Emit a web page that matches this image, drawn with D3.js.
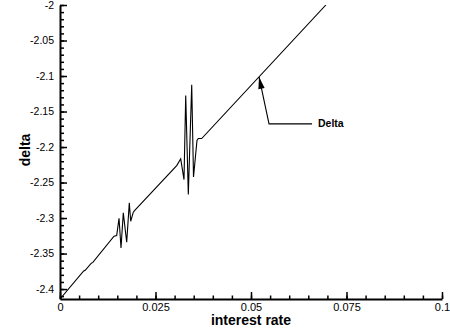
<!DOCTYPE html>
<html>
<head>
<meta charset="utf-8">
<script src="https://cdn.jsdelivr.net/npm/d3@7"></script>
<style>
  html, body { margin: 0; padding: 0; background: #fff; }
  svg { display: block; font-family: "Liberation Sans", Arial, Helvetica, sans-serif; }
</style>
</head>
<body>
<svg id="chart" width="450" height="332"></svg>
<script>
// Interest rate (x) and delta (y) samples of the computed curve
const rates = [0, 0.0062, 0.0066, 0.0082, 0.0086, 0.01414, 0.01484, 0.01545, 0.01597,
  0.01657, 0.01746, 0.01814, 0.01851, 0.01919, 0.01963, 0.03055, 0.03160, 0.03246,
  0.03291, 0.03359, 0.03448, 0.03495, 0.03586, 0.03620, 0.03709, 0.0696];
const deltas = [-2.414, -2.3745, -2.3735, -2.3635, -2.3625, -2.3256, -2.3246, -2.3003, -2.3420,
  -2.2927, -2.3341, -2.2786, -2.3045, -2.2918, -2.2890, -2.2261, -2.2166, -2.2458,
  -2.1275, -2.2669, -2.1124, -2.2423, -2.1908, -2.1880, -2.1880, -2.0];

// Axis ticks
const xMajor = [0, 0.025, 0.05, 0.075, 0.1];
const xMajorLabels = ["0", "0.025", "0.05", "0.075", "0.1"];
const xMinor = d3.range(0, 0.1001, 0.005);
const yMajor = [-2.4, -2.35, -2.3, -2.25, -2.2, -2.15, -2.1, -2.05, -2];
const yMajorLabels = ["-2.4", "-2.35", "-2.3", "-2.25", "-2.2", "-2.15", "-2.1", "-2.05", "-2"];
const yMinor = d3.range(-2.41, -1.9999, 0.01);

// Annotation
const calloutText = "Delta";
const calloutRate = 0.0521;
const xTitle = "interest rate";
const yTitle = "delta";

const svg = d3.select("#chart");
const plotL = 60, plotR = 442, plotT = 5, plotB = 299;

const x = d3.scaleLinear().domain([0, 0.1]).range([plotL, plotR]);
const y = d3.scaleLinear().domain([-2.414, -2]).range([plotB, plotT]);

// clip for the curve
svg.append("defs").append("clipPath").attr("id", "plot")
  .append("rect").attr("x", plotL).attr("y", plotT).attr("width", plotR - plotL).attr("height", plotB - plotT);

const pts = rates.map((r, i) => [r, deltas[i]]);
const line = d3.line().x(d => x(d[0])).y(d => y(d[1]));
svg.append("path").datum(pts)
  .attr("clip-path", "url(#plot)")
  .attr("d", line)
  .attr("fill", "none")
  .attr("stroke", "#000")
  .attr("stroke-width", 1.1)
  .attr("stroke-linejoin", "miter");

// minor ticks
svg.append("g").attr("transform", `translate(0,${plotB})`)
  .call(d3.axisBottom(x).tickValues(xMinor).tickSize(-3.5).tickFormat(""))
  .call(g => g.select(".domain").remove())
  .call(g => g.selectAll("line").attr("stroke-width", 1.5));
svg.append("g").attr("transform", `translate(${plotL},0)`)
  .call(d3.axisLeft(y).tickValues(yMinor).tickSize(-4).tickFormat(""))
  .call(g => g.select(".domain").remove())
  .call(g => g.selectAll("line").attr("stroke-width", 1.5));

// major ticks + labels
const xAxis = svg.append("g").attr("transform", `translate(0,${plotB})`)
  .call(d3.axisBottom(x).tickValues(xMajor).tickSizeInner(-7).tickSizeOuter(0).tickPadding(4)
    .tickFormat((d, i) => xMajorLabels[i]));
xAxis.selectAll("line").attr("stroke-width", 1.5);
xAxis.select(".domain").attr("stroke-width", 2);
xAxis.selectAll("text").attr("font-size", 11).attr("font-family", "Liberation Sans, Arial, sans-serif").attr("fill", "#000");

const yAxis = svg.append("g").attr("transform", `translate(${plotL},0)`)
  .call(d3.axisLeft(y).tickValues(yMajor).tickSizeInner(-7).tickSizeOuter(0).tickPadding(6)
    .tickFormat((d, i) => yMajorLabels[i]));
yAxis.selectAll("line").attr("stroke-width", 1.5);
yAxis.select(".domain").attr("stroke-width", 2);
yAxis.selectAll("text").attr("font-size", 10.5).attr("font-family", "Liberation Sans, Arial, sans-serif").attr("fill", "#000");

// axis titles
svg.append("text").attr("x", 251).attr("y", 325).attr("text-anchor", "middle")
  .attr("font-size", 14).attr("font-weight", "bold").text(xTitle);
svg.append("text").attr("transform", `translate(29.5,150) rotate(-90)`).attr("text-anchor", "middle")
  .attr("font-size", 14).attr("font-weight", "bold").text(yTitle);

// callout arrow pointing at the curve
const tipX = x(calloutRate);
const tipY = y(d3.scaleLinear().domain([0.03709, 0.0696]).range([-2.188, -2.0])(calloutRate));
const elbow = [tipX + 10, tipY + 47];
svg.append("path")
  .attr("d", `M${tipX},${tipY}L${elbow[0]},${elbow[1]}L${elbow[0] + 43},${elbow[1]}`)
  .attr("fill", "none").attr("stroke", "#000").attr("stroke-width", 1.1);
const ang = Math.atan2(elbow[1] - tipY, elbow[0] - tipX);
const hl = 12, hw = 3.2;
const bx = tipX + hl * Math.cos(ang), by = tipY + hl * Math.sin(ang);
svg.append("path")
  .attr("d", `M${tipX},${tipY}L${bx - hw * Math.sin(ang)},${by + hw * Math.cos(ang)}L${bx + hw * Math.sin(ang)},${by - hw * Math.cos(ang)}Z`)
  .attr("fill", "#000");
svg.append("text").attr("x", elbow[0] + 49).attr("y", elbow[1] + 3.5)
  .attr("font-size", 10.5).attr("font-weight", "bold").text(calloutText);
</script>
</body>
</html>
